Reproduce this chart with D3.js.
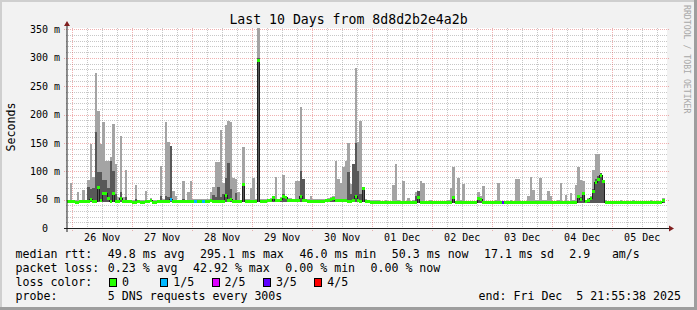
<!DOCTYPE html>
<html><head><meta charset="utf-8">
<script src="https://cdn.jsdelivr.net/npm/d3@7"></script>
<style>
html,body{margin:0;padding:0;background:#f2f2f2;}
svg{display:block;}
text{font-family:"DejaVu Sans Mono",monospace;fill:#000;white-space:pre;}
</style></head><body>
<svg id="c" width="697" height="310"></svg>
<script>
// ---------------- data (hourly samples, Nov 25 21:55:38 -> Dec 5 21:55:38) ----------------
const titleText = "Last 10 Days from 8d8d2b2e4a2b";
const startUtc = [2025, 10, 25, 21, 55, 38];
const endUtc   = [2025, 11, 5, 21, 55, 38];
const yTickValues = [0, 50, 100, 150, 200, 250, 300, 350];
const yTickLabels = ["0", "50", "100", "150", "200", "250", "300", "350"];
const yTickUnits  = ["", "m", "m", "m", "m", "m", "m", "m"];

// median rtt (ms)
const medianMs = [
 47,47,47,46,46,47,47,47,48,51, 48,47,73,50,62,61,53,48,62,48,
 47,53,47,47,47,47,46,46,47,46, 46,47,47,50,46,46,47,47,47,47,
 47,52,47,47,47,47,47,47,47,48, 48,48,48,48,48,48,48,50,48,48,
 47,47,47,58,49,52,47,47,47,47, 78,48,48,48,48,48,297,48,48,48,
 49,50,55,50,49,52,56,54,50,50, 49,49,50,56,49,49,48,48,48,48,
 48,48,48,49,50,51,53,50,49,49, 49,49,48,48,49,56,50,48,71,48,
 47,46,46,46,46,45,45,46,45,45, 45,46,46,45,45,45,45,45,46,46,
 55,46,46,45,45,46,45,45,45,45, 45,45,46,45,54,45,46,46,46,45,
 45,45,45,45,53,52,45,45,45,45, 45,46,45,45,45,45,45,46,45,45,
 45,45,45,45,45,46,46,46,46,46, 46,46,45,45,45,45,46,45,45,45,
 45,45,46,45,56,52,61,47,50,53, 65,81,87,94,82,46,45,45,45,45,
 45,46,45,45,45,45,46,45,45,45, 45,45,45,46,45,45,45,45,50
];
// 4th of 5 pings (ms) - top of dark smoke
const ping4Ms = [
 48,48,48,47,47,48,48,48,73,68, 70,169,98,98,84,85,70,118,101,60,
 48,63,48,55,48,48,47,52,48,47, 47,48,48,51,47,47,48,57,48,56,
 55,144,48,48,48,48,52,48,48,49, 49,49,49,49,49,49,49,52,58,55,
 73,55,60,89,114,68,48,62,48,48, 80,49,49,49,49,49,300,49,49,49,
 50,51,56,51,50,53,60,55,51,51, 50,50,51,101,86,50,49,49,49,49,
 49,49,49,50,51,52,54,51,50,50, 50,50,98,60,113,150,101,60,73,49,
 48,47,47,47,47,46,46,47,46,46, 46,47,47,46,46,46,46,46,47,56,
 66,47,47,46,46,47,46,46,46,46, 46,46,47,46,55,46,47,47,47,46,
 46,46,46,46,54,53,46,46,46,46, 46,47,46,46,46,46,46,47,46,46,
 46,46,46,46,46,47,47,47,47,47, 47,47,46,46,46,46,47,46,46,46,
 46,46,47,46,58,54,63,48,51,55, 69,86,92,97,84,47,46,46,46,46,
 46,47,46,46,46,46,47,46,46,46, 46,46,46,47,46,46,46,46,51
];
// max of 5 pings (ms) - top of light smoke
const maxMs = [
 50,80,50,49,63,50,67,50,84,148, 90,274,206,148,186,119,119,126,183,113,
 55,162,55,103,50,50,49,75,50,49, 49,66,50,53,49,49,50,110,52,187,
 151,144,66,57,50,50,82,50,64,82, 51,51,51,51,51,51,51,64,73,116,
 117,172,80,182,188,187,89,87,63,50, 142,51,51,70,89,51,355,51,51,51,
 52,53,57,90,52,55,94,57,53,53, 52,83,83,213,86,52,51,56,51,51,
 51,51,51,52,53,54,56,119,86,80, 107,119,149,77,113,282,152,188,73,51,
 50,49,49,49,49,48,48,49,48,48, 75,112,49,48,83,48,53,48,49,63,
 66,82,80,48,48,49,48,48,48,48, 48,48,49,70,108,48,88,49,78,48,
 48,48,48,48,64,56,74,48,48,48, 48,49,80,48,48,48,48,49,48,86,
 86,48,48,48,57,90,67,49,49,89, 49,49,66,56,48,48,49,80,48,59,
 48,62,49,75,107,84,82,50,53,56, 103,130,130,96,85,49,48,48,48,48,
 48,49,48,48,48,48,49,48,48,48, 48,48,48,49,48,48,48,48,53
];
// min / 2nd ping (ms) - bottom of smoke
const floorMs = [
 45,45,45,45,45,45,45,45,45,45, 45,45,45,45,45,45,45,45,45,45,
 45,45,45,45,45,45,45,45,45,45, 45,45,45,45,45,45,45,45,45,45,
 45,45,45,45,45,45,45,45,45,45, 45,45,45,45,45,45,45,45,45,45,
 45,45,45,45,45,45,45,45,45,45, 45,45,45,45,45,45,46,45,45,45,
 45,45,45,45,45,45,45,45,45,45, 45,45,45,45,45,45,45,45,45,45,
 45,45,45,45,45,45,45,45,45,45, 45,45,45,45,45,45,45,45,45,45,
 44,44,44,44,44,44,44,44,44,44, 44,44,44,44,44,44,44,44,44,44,
 44,44,44,44,44,44,44,44,44,44, 44,44,44,44,44,44,44,44,44,44,
 44,44,44,44,44,44,44,44,44,44, 44,44,44,44,44,44,44,44,44,44,
 44,44,44,44,44,44,44,44,44,44, 44,44,44,44,44,44,44,44,44,44,
 44,44,44,44,44,44,44,44,44,44, 44,44,44,44,44,44,44,44,44,44,
 44,44,44,44,44,44,44,44,44,44, 44,44,44,44,44,44,44,44,44
];
// lost pings out of 5 (per sample)
const lossCount = [
 0,0,0,0,0,0,0,0,0,0, 0,0,0,0,0,0,0,0,0,0,
 0,0,0,0,0,0,0,0,0,0, 0,0,0,0,0,0,0,0,0,0,
 0,1,0,0,0,0,0,0,0,0, 0,1,0,0,1,0,0,0,0,0,
 0,0,0,0,0,0,0,0,0,0, 0,0,0,0,0,0,0,0,0,0,
 0,0,0,0,0,0,0,0,0,0, 0,0,0,0,0,0,0,0,0,0,
 0,0,0,0,0,0,0,0,0,0, 0,0,0,0,0,0,0,0,0,0,
 0,0,0,0,0,0,0,0,0,0, 0,0,0,0,0,0,0,0,0,0,
 0,0,0,0,0,0,0,0,0,0, 0,0,0,0,0,0,0,0,0,0,
 0,0,0,0,0,0,0,0,0,0, 0,0,0,0,3,0,0,0,0,0,
 0,0,0,0,0,0,0,0,0,0, 0,0,0,0,0,0,0,0,0,0,
 0,0,0,0,0,0,0,0,0,0, 0,0,0,0,0,0,0,0,0,0,
 0,0,0,0,0,0,0,0,0,0, 0,0,0,0,0,0,0,0,0
];
const lossLabels = ["0", "1/5", "2/5", "3/5", "4/5"];
const lossColors = ["#26ff00", "#00b8ff", "#dd00ff", "#5e00ff", "#ff0000"];

const rttStats  = ["49.8 ms avg", "295.1 ms max", "46.0 ms min", "50.3 ms now", "17.1 ms sd", "2.9", "am/s"];
const lossStats = ["0.23 % avg", "42.92 % max", "0.00 % min", "0.00 % now"];
const probeText = "5 DNS requests every 300s";
const endText = "end: Fri Dec  5 21:55:38 2025";
const watermark = "RRDTOOL / TOBI OETIKER";

// ---------------- drawing ----------------
const W = 697, H = 310;
const L = 67, R = 667, T = 28, B = 228;
const HOUR = 3600e3;
const t0 = new Date(Date.UTC(...startUtc));
const t1 = new Date(Date.UTC(...endUtc));
const x = d3.scaleUtc().domain([t0, t1]).range([L, R]);
const y = d3.scaleLinear().domain([0, 352.6]).range([B, T]);
const svg = d3.select("#c");

// background + 3d frame
svg.append("rect").attr("width", W).attr("height", H).attr("fill", "#f2f2f2");
svg.append("rect").attr("x", 0).attr("y", 0).attr("width", W).attr("height", 2).attr("fill", "#cfcfcf");
svg.append("rect").attr("x", 0).attr("y", 0).attr("width", 2).attr("height", H).attr("fill", "#cfcfcf");
svg.append("rect").attr("x", 0).attr("y", H - 3).attr("width", W).attr("height", 3).attr("fill", "#9e9e9e");
svg.append("rect").attr("x", W - 3).attr("y", 0).attr("width", 3).attr("height", H).attr("fill", "#9e9e9e");

// canvas
svg.append("rect").attr("x", L).attr("y", T).attr("width", R - L).attr("height", B - T).attr("fill", "#fff");

const cr = v => Math.round(v) + 0.5;
const grid = svg.append("g").attr("shape-rendering", "crispEdges").attr("stroke-dasharray", "1,1").attr("fill", "none");
const minorGrid = "rgba(143,143,143,0.5)", majorGrid = "rgba(222,79,79,0.45)";
const yMinor = d3.range(10, 351, 10).filter(v => v % 50 !== 0);
grid.selectAll(".hm").data(yMinor).join("line")
  .attr("x1", L - 1).attr("x2", R + 1).attr("y1", d => cr(y(d))).attr("y2", d => cr(y(d)))
  .attr("stroke", minorGrid);
grid.selectAll(".hM").data(yTickValues.filter(v => v > 0)).join("line")
  .attr("x1", L - 3).attr("x2", R + 2).attr("y1", d => cr(y(d))).attr("y2", d => cr(y(d)))
  .attr("stroke", majorGrid);
const days = d3.utcDay.range(t0, t1);
const sixH = d3.utcHour.every(6).range(t0, t1).filter(d => d.getUTCHours() !== 0);
grid.selectAll(".vm").data(sixH).join("line")
  .attr("x1", d => cr(x(d))).attr("x2", d => cr(x(d))).attr("y1", T).attr("y2", B + 2)
  .attr("stroke", minorGrid);
grid.selectAll(".vM").data(days).join("line")
  .attr("x1", d => cr(x(d))).attr("x2", d => cr(x(d))).attr("y1", T).attr("y2", B + 3)
  .attr("stroke", majorGrid);

// clip
svg.append("defs").append("clipPath").attr("id", "cv")
  .append("rect").attr("x", L).attr("y", T).attr("width", R - L).attr("height", B - T);
const marks = svg.append("g").attr("clip-path", "url(#cv)").attr("shape-rendering", "crispEdges");

const samples = medianMs.map((m, i) => ({
  i, med: m, p4: ping4Ms[i], max: maxMs[i], lo: floorMs[i], loss: lossCount[i],
  x0: Math.round(x(new Date(t0.getTime() + i * HOUR))),
  x1: Math.round(x(new Date(t0.getTime() + (i + 1) * HOUR)))
}));

marks.selectAll(".light").data(samples).join("rect")
  .attr("x", d => d.x0).attr("width", d => d.x1 - d.x0)
  .attr("y", d => Math.round(y(d.max))).attr("height", d => Math.round(y(d.lo)) - Math.round(y(d.max)))
  .attr("fill", "#a4a4a4");
marks.selectAll(".dark").data(samples).join("rect")
  .attr("x", d => d.x0).attr("width", d => d.x1 - d.x0)
  .attr("y", d => Math.round(y(d.p4))).attr("height", d => Math.round(y(d.lo)) - Math.round(y(d.p4)))
  .attr("fill", "#585858");

const medLine = d3.line().x(d => (d.x0 + d.x1) / 2).y(d => cr(y(d.med))).curve(d3.curveStep);
marks.append("path").attr("d", medLine(samples)).attr("fill", "none").attr("stroke", "#202020").attr("stroke-width", 1);

marks.selectAll(".band").data(samples).join("rect")
  .attr("x", d => d.x0).attr("width", d => d.x1 - d.x0)
  .attr("y", d => Math.round(y(d.med)) - 1).attr("height", 3)
  .attr("fill", d => lossColors[d.loss]);

// axes
svg.append("line").attr("x1", L - 3).attr("x2", R + 2).attr("y1", B + 0.5).attr("y2", B + 0.5)
  .attr("stroke", "#1f1f1f").attr("shape-rendering", "crispEdges");
svg.append("line").attr("x1", L).attr("x2", L).attr("y1", B + 4).attr("y2", T - 2)
  .attr("stroke", "#1f1f1f");
svg.append("path").attr("d", `M${L - 3},${T - 2}L${L},${T - 7}L${L + 3},${T - 2}Z`).attr("fill", "#801f1f");
svg.append("path").attr("d", `M${R + 2},${B - 2.5}L${R + 7},${B + 0.5}L${R + 2},${B + 3.5}Z`).attr("fill", "#801f1f");

// y labels
const yl = svg.append("g").style("font-size", "10px");
yl.selectAll(".yn").data(yTickValues).join("text")
  .attr("x", 48).attr("y", d => y(d) + 3.6).attr("text-anchor", "end")
  .text((d, i) => yTickLabels[i]);
yl.selectAll(".yu").data(yTickValues).join("text")
  .attr("x", 54).attr("y", d => y(d) + 3.6)
  .text((d, i) => yTickUnits[i]);

// x labels
const fmt = d3.utcFormat("%d %b");
svg.append("g").style("font-size", "10px").selectAll("text").data(days).join("text")
  .attr("x", d => x(d3.utcHour.offset(d, 12))).attr("y", 241).attr("text-anchor", "middle")
  .text(d => fmt(d));

// title
svg.append("text").attr("x", 348.5).attr("y", 24).attr("text-anchor", "middle")
  .style("font-size", "13.2px").text(titleText);
// unit label
svg.append("text").attr("transform", "translate(15,127) rotate(-90)").attr("text-anchor", "middle")
  .style("font-size", "11.6px").text("Seconds");
// watermark
svg.append("text").attr("transform", "translate(684,5) rotate(90)")
  .style("font-size", "8.2px").style("fill", "#a8a8a8").text(watermark);

// legend
const lg = svg.append("g").style("font-size", "11.6px");
const col = c => 15.5 + c * 7.1;
const row = [258.3, 272.3, 286.3, 300.3];
lg.append("text").attr("x", col(0)).attr("y", row[0]).text("median rtt:");
const rttCols = [13, 26, 40, 53, 66, 78, 84];
rttStats.forEach((s, k) => lg.append("text").attr("x", col(rttCols[k])).attr("y", row[0]).text(s));
lg.append("text").attr("x", col(0)).attr("y", row[1]).text("packet loss:");
const lossCols = [13, 25, 38, 50];
lossStats.forEach((s, k) => lg.append("text").attr("x", col(lossCols[k])).attr("y", row[1]).text(s));
lg.append("text").attr("x", col(0)).attr("y", row[2]).text("loss color:");
lossLabels.forEach((s, k) => {
  const bx = 109 + k * 51.3;
  lg.append("rect").attr("x", Math.round(bx) + 0.5).attr("y", 278.5).attr("width", 7).attr("height", 8)
    .attr("fill", lossColors[k]).attr("stroke", "#000").attr("shape-rendering", "crispEdges");
  lg.append("text").attr("x", bx + 13).attr("y", row[2]).text(s);
});
lg.append("text").attr("x", col(0)).attr("y", row[3]).text("probe:");
lg.append("text").attr("x", col(13)).attr("y", row[3]).text(probeText);
lg.append("text").attr("x", 681).attr("y", row[3]).attr("text-anchor", "end").text(endText);
</script>
</body></html>
